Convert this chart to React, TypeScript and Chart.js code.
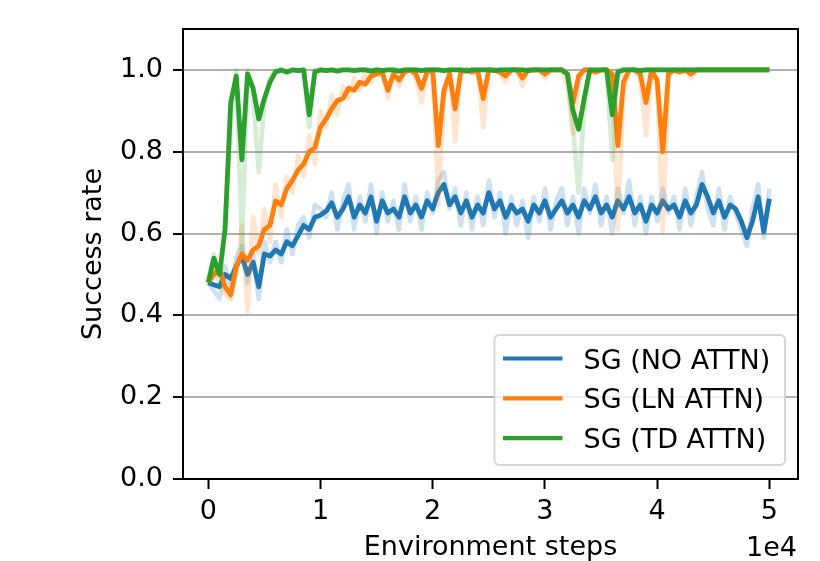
import React, { useEffect, useRef } from "react";
import { Chart, registerables } from "chart.js";

Chart.register(...registerables);

// x sampling: environment steps (every 500 steps, 0 .. 50000)
const envSteps: number[] = Array.from({ length: 101 }, (_, i) => i * 500);
const xTickValues = [0, 10000, 20000, 30000, 40000, 50000];
const yTickValues = [0, 0.2, 0.4, 0.6, 0.8, 1.0];
const seriesNames = ["SG (NO ATTN)", "SG (LN ATTN)", "SG (TD ATTN)"];
const seriesColors = ["#1f77b4", "#ff7f0e", "#2ca02c"];
const seriesFaint = ["rgba(31,119,180,0.22)", "rgba(255,127,14,0.2)", "rgba(44,160,44,0.2)"];

// SG (NO ATTN)
const noAttnSmooth = [
  0.48, 0.475, 0.47, 0.50, 0.49, 0.52, 0.545, 0.50, 0.53, 0.47,
  0.55, 0.545, 0.56, 0.55, 0.58, 0.57, 0.595, 0.62, 0.61, 0.64,
  0.645, 0.655, 0.675, 0.64, 0.66, 0.69, 0.64, 0.67, 0.65, 0.69,
  0.63, 0.68, 0.65, 0.66, 0.64, 0.69, 0.65, 0.67, 0.64, 0.68,
  0.66, 0.70, 0.72, 0.67, 0.69, 0.65, 0.68, 0.64, 0.67, 0.65,
  0.70, 0.66, 0.68, 0.64, 0.67, 0.65, 0.66, 0.63, 0.67, 0.65,
  0.68, 0.64, 0.66, 0.68, 0.65, 0.67, 0.64, 0.68, 0.66, 0.69,
  0.65, 0.67, 0.64, 0.68, 0.66, 0.69, 0.65, 0.67, 0.63, 0.67,
  0.65, 0.68, 0.66, 0.67, 0.64, 0.68, 0.65, 0.67, 0.72, 0.69,
  0.65, 0.68, 0.64, 0.67, 0.66, 0.63, 0.59, 0.63, 0.69, 0.605,
  0.685,
];
const noAttnRaw = [
  0.48, 0.46, 0.44, 0.52, 0.47, 0.54, 0.57, 0.48, 0.55, 0.44,
  0.58, 0.53, 0.58, 0.53, 0.61, 0.55, 0.62, 0.64, 0.59, 0.67,
  0.66, 0.64, 0.70, 0.61, 0.68, 0.72, 0.61, 0.69, 0.63, 0.72,
  0.60, 0.70, 0.63, 0.68, 0.61, 0.72, 0.63, 0.69, 0.61, 0.70,
  0.65, 0.73, 0.75, 0.66, 0.71, 0.62, 0.70, 0.61, 0.69, 0.62,
  0.73, 0.64, 0.70, 0.60, 0.69, 0.62, 0.68, 0.59, 0.69, 0.63,
  0.71, 0.61, 0.68, 0.71, 0.62, 0.69, 0.60, 0.71, 0.65, 0.72,
  0.62, 0.69, 0.60, 0.71, 0.65, 0.73, 0.62, 0.69, 0.60, 0.69,
  0.63, 0.71, 0.65, 0.69, 0.61, 0.71, 0.62, 0.69, 0.75, 0.66,
  0.62, 0.71, 0.61, 0.69, 0.65, 0.61, 0.57, 0.66, 0.72, 0.59,
  0.71,
];

// SG (LN ATTN)
const lnAttnSmooth = [
  0.48, 0.50, 0.515, 0.47, 0.45, 0.52, 0.55, 0.535, 0.56, 0.57,
  0.61, 0.62, 0.68, 0.67, 0.71, 0.73, 0.755, 0.77, 0.80, 0.81,
  0.86, 0.88, 0.905, 0.925, 0.93, 0.955, 0.95, 0.97, 0.965, 0.985,
  0.99, 0.995, 0.95, 0.99, 0.975, 0.995, 1.0, 0.99, 0.955, 0.995,
  1.0, 0.815, 0.95, 0.99, 0.905, 0.995, 1.0, 0.995, 1.0, 0.93,
  1.0, 1.0, 0.995, 0.985, 1.0, 1.0, 0.98, 1.0, 1.0, 1.0,
  0.99, 1.0, 1.0, 1.0, 0.99, 0.92, 0.985, 1.0, 1.0, 0.995,
  1.0, 1.0, 0.99, 0.815, 0.97, 1.0, 1.0, 0.99, 0.92, 1.0,
  0.975, 0.80, 0.99, 1.0, 0.995, 1.0, 0.99, 1.0, 1.0, 1.0,
  1.0, 1.0, 1.0, 1.0, 1.0, 1.0, 1.0, 1.0, 1.0, 1.0,
  1.0,
];
const lnAttnRaw = [
  0.48, 0.49, 0.52, 0.45, 0.44, 0.50, 0.62, 0.41, 0.64, 0.55,
  0.66, 0.58, 0.72, 0.64, 0.74, 0.70, 0.79, 0.74, 0.84, 0.77,
  0.90, 0.86, 0.94, 0.89, 0.96, 0.93, 0.98, 0.95, 1.0, 0.97,
  1.0, 1.0, 0.93, 1.0, 0.96, 1.0, 1.0, 0.98, 0.92, 1.0,
  1.0, 0.67, 0.93, 1.0, 0.825, 1.0, 1.0, 0.99, 1.0, 0.86,
  1.0, 1.0, 0.99, 0.97, 1.0, 1.0, 0.96, 1.0, 1.0, 1.0,
  0.98, 1.0, 1.0, 1.0, 0.96, 0.845, 0.97, 1.0, 1.0, 0.99,
  1.0, 1.0, 0.98, 0.61, 0.95, 1.0, 1.0, 0.98, 0.84, 1.0,
  0.96, 0.605, 0.98, 1.0, 0.99, 1.0, 0.98, 1.0, 1.0, 1.0,
  1.0, 1.0, 1.0, 1.0, 1.0, 1.0, 1.0, 1.0, 1.0, 1.0,
  1.0,
];

// SG (TD ATTN)
const tdAttnSmooth = [
  0.48, 0.54, 0.50, 0.61, 0.92, 0.985, 0.78, 0.99, 0.955, 0.88,
  0.93, 0.97, 0.995, 1.0, 0.995, 1.0, 0.998, 1.0, 0.89, 0.995,
  1.0, 0.998, 1.0, 0.997, 1.0, 1.0, 0.998, 1.0, 1.0, 0.997,
  1.0, 0.998, 1.0, 1.0, 0.997, 1.0, 1.0, 1.0, 0.998, 1.0,
  1.0, 1.0, 0.998, 1.0, 1.0, 1.0, 0.997, 1.0, 1.0, 1.0,
  1.0, 0.998, 1.0, 1.0, 1.0, 1.0, 1.0, 0.998, 1.0, 1.0,
  1.0, 1.0, 1.0, 1.0, 0.99, 0.90, 0.855, 0.93, 1.0, 1.0,
  1.0, 1.0, 0.89, 0.995, 1.0, 1.0, 1.0, 0.998, 1.0, 1.0,
  1.0, 1.0, 1.0, 1.0, 1.0, 1.0, 1.0, 1.0, 1.0, 1.0,
  1.0, 1.0, 1.0, 1.0, 1.0, 1.0, 1.0, 1.0, 1.0, 1.0,
  1.0,
];
const tdAttnRaw = [
  0.48, 0.55, 0.47, 0.63, 0.86, 1.0, 0.56, 1.0, 0.93, 0.75,
  0.92, 0.98, 1.0, 1.0, 0.99, 1.0, 1.0, 1.0, 0.86, 1.0,
  1.0, 1.0, 1.0, 1.0, 1.0, 1.0, 1.0, 1.0, 1.0, 1.0,
  1.0, 1.0, 1.0, 1.0, 1.0, 1.0, 1.0, 1.0, 1.0, 1.0,
  1.0, 1.0, 1.0, 1.0, 1.0, 1.0, 1.0, 1.0, 1.0, 1.0,
  1.0, 1.0, 1.0, 1.0, 1.0, 1.0, 1.0, 1.0, 1.0, 1.0,
  1.0, 1.0, 1.0, 1.0, 0.99, 0.86, 0.70, 0.90, 1.0, 1.0,
  1.0, 1.0, 0.78, 1.0, 1.0, 1.0, 1.0, 1.0, 1.0, 1.0,
  1.0, 1.0, 1.0, 1.0, 1.0, 1.0, 1.0, 1.0, 1.0, 1.0,
  1.0, 1.0, 1.0, 1.0, 1.0, 1.0, 1.0, 1.0, 1.0, 1.0,
  1.0,
];

const FONT = "'DejaVu Sans', sans-serif";
const FS = 27;

export default function App() {
  const ref = useRef<HTMLCanvasElement>(null);

  useEffect(() => {
    document.body.style.margin = "0";
    const toPts = (vals: number[]) => vals.map((v, i) => ({ x: envSteps[i], y: v }));
    const smooth = [noAttnSmooth, lnAttnSmooth, tdAttnSmooth];
    const raw = [noAttnRaw, lnAttnRaw, tdAttnRaw];

    const datasets: any[] = [];
    for (let s = 0; s < 3; s++) {
      datasets.push({
        label: seriesNames[s] + " raw",
        data: toPts(raw[s]),
        borderColor: seriesFaint[s],
        borderWidth: 4.6,
        pointRadius: 0,
        borderJoinStyle: "round",
        order: 5 - 2 * s,
      });
      datasets.push({
        label: seriesNames[s],
        data: toPts(smooth[s]),
        borderColor: seriesColors[s],
        borderWidth: 4.8,
        pointRadius: 0,
        borderJoinStyle: "round",
        order: 4 - 2 * s,
      });
    }

    const overlay = {
      id: "frameLegend",
      afterDraw(chart: any) {
        const { ctx, chartArea } = chart;
        const { left, top, right, bottom } = chartArea;
        ctx.save();
        // axes frame
        ctx.strokeStyle = "#000";
        ctx.lineWidth = 2;
        ctx.strokeRect(left, top, right - left, bottom - top);

        // legend box
        const bx = right - 303.5;
        const by = bottom - 144;
        const bw = 290.5;
        const bh = 130;
        const r = 5;
        ctx.beginPath();
        ctx.moveTo(bx + r, by);
        ctx.lineTo(bx + bw - r, by);
        ctx.arcTo(bx + bw, by, bx + bw, by + r, r);
        ctx.lineTo(bx + bw, by + bh - r);
        ctx.arcTo(bx + bw, by + bh, bx + bw - r, by + bh, r);
        ctx.lineTo(bx + r, by + bh);
        ctx.arcTo(bx, by + bh, bx, by + bh - r, r);
        ctx.lineTo(bx, by + r);
        ctx.arcTo(bx, by, bx + r, by, r);
        ctx.closePath();
        ctx.fillStyle = "rgba(255,255,255,0.8)";
        ctx.fill();
        ctx.strokeStyle = "rgba(204,204,204,0.8)";
        ctx.lineWidth = 2;
        ctx.stroke();

        ctx.font = `${FS}px ${FONT}`;
        ctx.textAlign = "left";
        ctx.textBaseline = "alphabetic";
        for (let s = 0; s < 3; s++) {
          const ly = by + 23.5 + s * 39.8;
          ctx.strokeStyle = seriesColors[s];
          ctx.lineWidth = 4.2;
          ctx.beginPath();
          ctx.moveTo(bx + 8.5, ly);
          ctx.lineTo(bx + 68, ly);
          ctx.stroke();
          ctx.fillStyle = "#000";
          ctx.fillText(seriesNames[s], bx + 89, ly + 10);
        }

        // axis offset text
        ctx.textAlign = "right";
        ctx.fillText("1e4", right - 1, 556);
        ctx.restore();
      },
    };

    const chart = new Chart(ref.current as HTMLCanvasElement, {
      type: "line",
      data: { datasets },
      options: {
        animation: false,
        responsive: true,
        maintainAspectRatio: false,
        events: [],
        layout: { padding: { left: 0, top: 29, right: 22, bottom: 0 } },
        plugins: { legend: { display: false }, tooltip: { enabled: false } },
        elements: { line: { tension: 0 } },
        scales: {
          x: {
            type: "linear",
            min: -2250,
            max: 52550,
            afterBuildTicks: (scale: any) => {
              scale.ticks = xTickValues.map((v) => ({ value: v }));
            },
            afterFit: (scale: any) => {
              scale.height = 82;
            },
            border: { display: false },
            grid: {
              drawOnChartArea: false,
              drawTicks: true,
              tickLength: 10,
              tickColor: "#000",
              tickWidth: 2,
            },
            ticks: {
              autoSkip: false,
              maxRotation: 0,
              padding: 7,
              color: "#000",
              font: { family: FONT, size: FS },
              callback: (v: any) => String(Number(v) / 10000),
            },
            title: {
              display: true,
              text: "Environment steps",
              color: "#000",
              font: { family: FONT, size: FS, lineHeight: 1 },
              padding: { top: 0, bottom: 0 },
            },
          },
          y: {
            type: "linear",
            min: 0,
            max: 1.1,
            afterBuildTicks: (scale: any) => {
              scale.ticks = yTickValues.map((v) => ({ value: v }));
            },
            afterFit: (scale: any) => {
              scale.width = 183;
            },
            border: { display: false },
            grid: {
              color: "#b0b0b0",
              lineWidth: 2,
              drawTicks: true,
              tickLength: 10,
              tickColor: "#000",
              tickWidth: 2,
            },
            ticks: {
              padding: 10,
              color: "#000",
              font: { family: FONT, size: FS },
              callback: (v: any) => Number(v).toFixed(1),
            },
            title: {
              display: true,
              text: "Success rate",
              color: "#000",
              font: { family: FONT, size: FS, lineHeight: 1 },
              padding: { top: 80.5, bottom: 0 },
            },
          },
        },
      },
      plugins: [overlay],
    } as any);

    return () => chart.destroy();
  }, []);

  return (
    <div style={{ width: 820, height: 561, position: "relative" }}>
      <canvas ref={ref} />
    </div>
  );
}
